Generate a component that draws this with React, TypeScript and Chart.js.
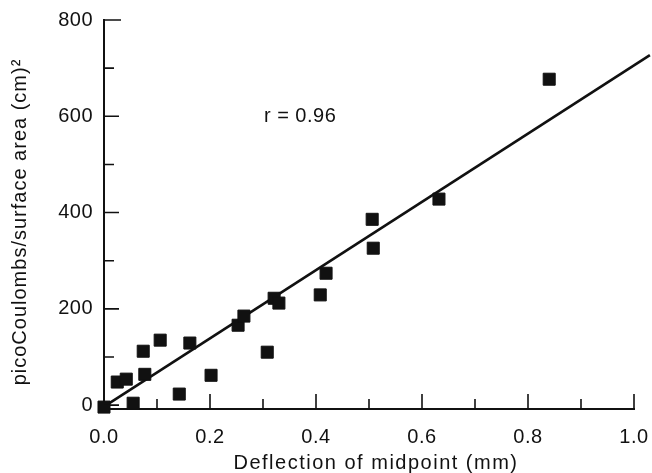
import React, { useEffect, useRef } from "react";
import { Chart, registerables } from "chart.js";

Chart.register(...registerables);

const deflection = [0.0, 0.025, 0.042, 0.055, 0.074, 0.077, 0.106, 0.142, 0.162, 0.202, 0.253, 0.264, 0.308, 0.321, 0.330, 0.408, 0.419, 0.506, 0.508, 0.632, 0.840];
const charge = [-4, 48, 54, 4, 112, 64, 135, 23, 129, 62, 166, 185, 110, 222, 212, 229, 274, 386, 326, 428, 677];
const fitX = [0.0, 1.03];
const fitY = [-3, 727];
const xTickLabels = [0, 0.2, 0.4, 0.6, 0.8, 1.0];
const yTickLabels = [0, 200, 400, 600, 800];
const xMinorTicks = [0.1, 0.3, 0.5, 0.7, 0.9];
const yMinorTicks = [100, 300, 500, 700];
const xTitle = "Deflection of midpoint (mm)";
const yTitle = "picoCoulombs/surface area (cm)²";
const rText = "r = 0.96";
const rPos = { x: 0.37, y: 600 };

const FONT = "'Liberation Sans', Arial, sans-serif";
const INK = "#111";

const decorPlugin = {
  id: "decor",
  beforeUpdate(chart: any) {
    (chart.ctx as any).letterSpacing = "0.5px";
  },
  beforeDraw(chart: any) {
    (chart.ctx as any).letterSpacing = "0.5px";
  },
  afterDraw(chart: any) {
    const ctx = chart.ctx as any;
    const xs = chart.scales.x;
    const ys = chart.scales.y;
    const area = chart.chartArea;
    ctx.save();
    ctx.strokeStyle = INK;
    ctx.lineWidth = 1.6;
    ctx.beginPath();
    yTickLabels.forEach((v) => {
      const py = ys.getPixelForValue(v);
      const len = v === 800 ? 17 : 15;
      ctx.moveTo(area.left, py);
      ctx.lineTo(area.left + len, py);
    });
    yMinorTicks.forEach((v) => {
      const py = ys.getPixelForValue(v);
      ctx.moveTo(area.left, py);
      ctx.lineTo(area.left + 10, py);
    });
    xTickLabels.forEach((v) => {
      if (v === 0) return;
      const px = xs.getPixelForValue(v);
      ctx.moveTo(px, area.bottom);
      ctx.lineTo(px, area.bottom - 15);
    });
    xMinorTicks.forEach((v) => {
      const px = xs.getPixelForValue(v);
      ctx.moveTo(px, area.bottom);
      ctx.lineTo(px, area.bottom - 10);
    });
    ctx.stroke();

    ctx.fillStyle = INK;
    ctx.font = `20px ${FONT}`;
    ctx.textBaseline = "middle";
    ctx.textAlign = "center";
    ctx.letterSpacing = "0.5px";
    ctx.fillText(rText, xs.getPixelForValue(rPos.x), ys.getPixelForValue(rPos.y));

    ctx.letterSpacing = "1.5px";
    ctx.fillText(xTitle, 376, 463);

    ctx.translate(20, 222);
    ctx.rotate(-Math.PI / 2);
    ctx.letterSpacing = "1px";
    ctx.fillText(yTitle, 0, 0);
    ctx.restore();
  },
};

export default function App() {
  const canvasRef = useRef<HTMLCanvasElement | null>(null);

  useEffect(() => {
    if (!canvasRef.current) return;
    const chart = new Chart(canvasRef.current, {
      type: "scatter",
      data: {
        datasets: [
          {
            type: "scatter",
            data: deflection.map((x, i) => ({ x, y: charge[i] })),
            pointStyle: "rect",
            pointRadius: 8.5,
            pointHoverRadius: 8.5,
            backgroundColor: INK,
            borderColor: INK,
            borderWidth: 1,
            clip: false as any,
          },
          {
            type: "line",
            data: fitX.map((x, i) => ({ x, y: fitY[i] })),
            borderColor: INK,
            borderWidth: 2.6,
            pointRadius: 0,
            fill: false,
            clip: false as any,
          } as any,
        ],
      },
      options: {
        responsive: false,
        animation: false,
        layout: { autoPadding: false, padding: { left: 0, top: 20, right: 18, bottom: 0 } },
        plugins: {
          legend: { display: false },
          tooltip: { enabled: false },
          title: { display: false },
        },
        scales: {
          x: {
            type: "linear",
            min: 0,
            max: 1,
            grid: { display: false, drawTicks: false },
            border: { display: true, color: INK, width: 2 },
            afterBuildTicks: (scale: any) => {
              scale.ticks = xTickLabels.map((v) => ({ value: v }));
            },
            afterFit: (scale: any) => {
              scale.height = 64;
              scale.paddingLeft = 0;
              scale.paddingRight = 0;
            },
            ticks: {
              color: INK,
              padding: 16,
              font: { family: FONT, size: 20 },
              callback: (v: any) => Number(v).toFixed(1),
              maxRotation: 0,
            },
          },
          y: {
            type: "linear",
            min: -8,
            max: 800,
            grid: { display: false, drawTicks: false },
            border: { display: true, color: INK, width: 2 },
            afterBuildTicks: (scale: any) => {
              scale.ticks = yTickLabels.map((v) => ({ value: v }));
            },
            afterFit: (scale: any) => {
              scale.width = 104;
              scale.paddingTop = 0;
              scale.paddingBottom = 0;
            },
            ticks: {
              color: INK,
              padding: 11,
              font: { family: FONT, size: 20 },
              callback: (v: any) => String(v),
            },
          },
        },
      },
      plugins: [decorPlugin],
    });
    return () => chart.destroy();
  }, []);

  return (
    <div style={{ position: "absolute", left: 0, top: 0, width: 652, height: 473, background: "#fff" }}>
      <canvas ref={canvasRef} width={652} height={473} style={{ display: "block" }} />
    </div>
  );
}
